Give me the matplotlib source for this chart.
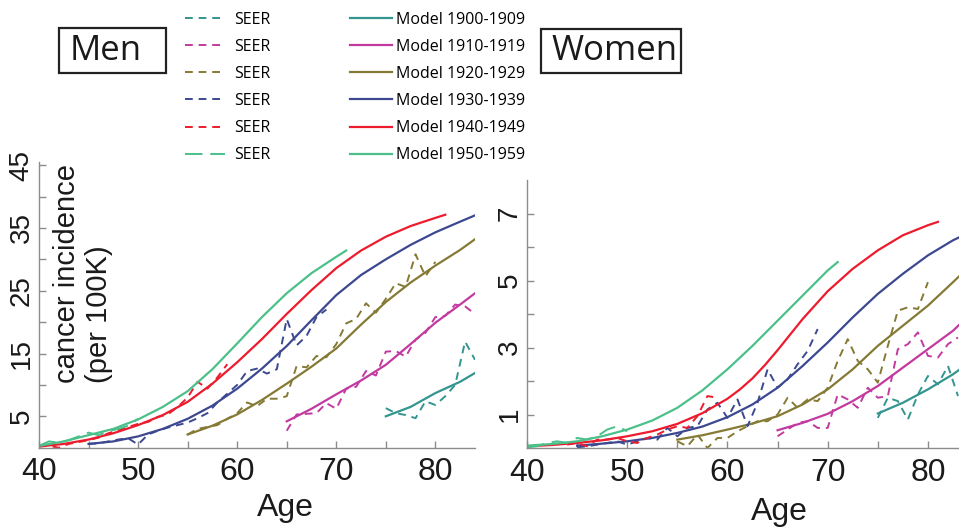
import numpy as np
import matplotlib
matplotlib.use("Agg")
import matplotlib.pyplot as plt
from matplotlib.patches import Rectangle

plt.rcParams['font.family'] = ['Liberation Sans', 'DejaVu Sans']

# cohort labels and colours
cohorts = ["1900-1909", "1910-1919", "1920-1929", "1930-1939", "1940-1949", "1950-1959"]
colors = ["#339590", "#c23aa0", "#857a35", "#3c4890", "#ec1c2e", "#4cc08a"]

# ---- Men: model curves (age, incidence per 100K)
men_model_age = [
    [75, 77.5, 80, 82.5, 84],
    [65, 67.5, 70, 72.5, 75, 77.5, 80, 82.5, 84],
    [55, 57.5, 60, 62.5, 65, 67.5, 70, 72.5, 75, 77.5, 80, 82.5, 84],
    [45, 47.5, 50, 52.5, 55, 57.5, 60, 62.5, 65, 67.5, 70, 72.5, 75, 77.5, 80, 82.5, 84],
    [40, 42.5, 45, 47.5, 50, 52.5, 55, 57.5, 60, 62.5, 65, 67.5, 70, 72.5, 75, 77.5, 80, 81],
    [40, 42.5, 45, 47.5, 50, 52.5, 55, 57.5, 60, 62.5, 65, 67.5, 70, 71],
]
men_model_val = [
    [5.0, 6.5, 8.7, 10.5, 11.9],
    [4.2, 6.2, 8.5, 10.7, 13.2, 16.5, 19.9, 22.8, 24.6],
    [2.1, 3.5, 5.3, 7.6, 10.2, 12.9, 15.8, 19.6, 23.2, 26.3, 29.0, 31.5, 33.2],
    [0.6, 1.0, 1.8, 3.0, 4.6, 6.7, 9.4, 12.6, 16.2, 20.3, 24.3, 27.5, 30.0, 32.3, 34.3, 36.0, 37.0],
    [0.2, 0.6, 1.3, 2.3, 3.6, 5.2, 7.3, 10.2, 13.6, 17.3, 21.3, 25.1, 28.6, 31.4, 33.6, 35.3, 36.6, 37.1],
    [0.3, 1.0, 2.0, 3.0, 4.5, 6.5, 9.0, 12.5, 16.6, 20.8, 24.6, 27.8, 30.4, 31.4],
]

# ---- Men: SEER data, one value per year
men_seer_start = [75, 65, 55, 45, 40, 40]
men_seer_val = [
    [6.3, 5.5, 5.2, 4.7, 7.4, 6.8, 8.2, 10.0, 16.9, 14.0],
    [2.7, 5.3, 5.4, 5.5, 7.1, 6.2, 9.4, 9.7, 12.2, 11.5, 15.3, 15.4, 14.5, 17.2, 18.3, 20.8, 21.0, 22.8, 22.5, 21.3],
    [2.1, 3.0, 3.3, 3.6, 4.6, 5.5, 7.2, 6.6, 7.8, 7.8, 8.2, 13.0, 12.8, 14.6, 14.4, 16.5, 19.8, 20.5, 23.0,
     21.5, 23.7, 26.2, 25.6, 30.8, 27.3, 29.6],
    [0.6, 0.7, 1.0, 1.3, 1.5, 0.5, 2.1, 2.7, 3.2, 3.6, 4.0, 4.7, 5.5, 7.2, 8.6, 10.0, 12.2, 12.6, 11.8, 12.5,
     20.5, 16.3, 17.8, 20.8, 22.0],
    [0.2, 0.3, 0.0, 0.6, 0.9, 1.2, 1.6, 2.3, 2.8, 3.3, 3.8, 4.1, 4.9, 5.3, 6.5, 8.0, 10.5, 9.4, 11.2, 13.3],
    [0.3, 1.0, 0.8, 1.2, 1.8, 2.4, 2.0, 2.6, 3.0, 3.5, 4.6],
]

# ---- Women: model curves
women_model_age = [
    [75, 77.5, 80, 82.5, 83.2],
    [65, 67.5, 70, 72.5, 75, 77.5, 80, 82.5, 83.2],
    [55, 57.5, 60, 62.5, 65, 67.5, 70, 72.5, 75, 77.5, 80, 82.5, 83.2],
    [45, 47.5, 50, 52.5, 55, 57.5, 60, 62.5, 65, 67.5, 70, 72.5, 75, 77.5, 80, 82.5, 83.2],
    [40, 42.5, 45, 47.5, 50, 52.5, 55, 57.5, 60, 61.25, 62.5, 63.75, 65, 67.5, 70, 72.5, 75, 77.5, 80, 81],
    [40, 42.5, 45, 47.5, 50, 52.5, 55, 57.5, 60, 62.5, 65, 67.5, 70, 71],
]
women_model_val = [
    [1.03, 1.35, 1.75, 2.2, 2.35],
    [0.53, 0.75, 1.02, 1.4, 1.85, 2.4, 2.95, 3.5, 3.7],
    [0.25, 0.38, 0.55, 0.73, 0.95, 1.3, 1.75, 2.35, 3.05, 3.65, 4.25, 4.95, 5.15],
    [0.07, 0.13, 0.2, 0.3, 0.45, 0.64, 0.92, 1.3, 1.8, 2.45, 3.15, 3.9, 4.6, 5.2, 5.75, 6.2, 6.3],
    [0.05, 0.09, 0.15, 0.23, 0.35, 0.5, 0.72, 1.04, 1.47, 1.75, 2.08, 2.48, 2.92, 3.85, 4.68, 5.35, 5.9, 6.35,
     6.65, 6.75],
    [0.07, 0.12, 0.2, 0.35, 0.55, 0.82, 1.2, 1.72, 2.35, 3.05, 3.8, 4.55, 5.3, 5.55],
]

# ---- Women: SEER data
women_seer_start = [75, 65, 55, 45, 44, 40]
women_seer_val = [
    [0.9, 1.5, 1.4, 0.85, 1.6, 2.15, 1.9, 2.45, 1.55],
    [0.35, 0.55, 0.75, 0.8, 0.6, 0.6, 1.6, 1.45, 1.2, 1.8, 1.5, 1.55, 2.95, 3.1, 3.45, 2.75, 2.7, 3.1, 3.3],
    [0.2, 0.05, 0.4, 0.0, 0.3, 0.3, 0.5, 0.65, 0.8, 0.8, 1.0, 1.5, 1.2, 1.45, 1.4, 1.8, 2.6, 3.25, 2.6,
     2.35, 1.95, 3.05, 4.1, 4.2, 4.15, 4.95],
    [0.02, 0.05, 0.1, 0.15, 0.2, 0.1, 0.2, 0.3, 0.25, 0.6, 0.35, 0.6, 0.65, 1.15, 1.35, 0.9, 1.45, 0.65, 1.35,
     2.35, 1.8, 2.05, 2.5, 2.9, 3.55],
    [0.1, 0.15, 0.05, 0.25, 0.25, 0.3, 0.2, 0.15, 0.3, 0.4, 0.55, 0.65, 0.6, 0.95, 1.55, 1.5],
    [0.02, 0.05, 0.15, 0.2, 0.15, 0.3, 0.25, 0.35, 0.55, 0.65, 0.5],
]

fig = plt.figure(figsize=(9.59, 5.30), dpi=100)
W, H = 959.0, 530.0

ax_m = fig.add_axes([39 / W, 1 - 447.7 / H, 436 / W, 285.7 / H])
ax_w = fig.add_axes([527 / W, 1 - 448 / H, 433 / W, 268 / H])

seer_handles = []
model_handles = []
for i in range(6):
    dash = (0, (9, 4)) if i == 5 else (0, (4, 3))
    yrs = np.arange(men_seer_start[i], men_seer_start[i] + len(men_seer_val[i]))
    h1, = ax_m.plot(yrs, men_seer_val[i], color=colors[i], lw=1.4, linestyle=dash)
    h2, = ax_m.plot(men_model_age[i], men_model_val[i], color=colors[i], lw=1.6)
    seer_handles.append(h1)
    model_handles.append(h2)

    yrs = np.arange(women_seer_start[i], women_seer_start[i] + len(women_seer_val[i]))
    ax_w.plot(yrs, women_seer_val[i], color=colors[i], lw=1.4, linestyle=dash)
    ax_w.plot(women_model_age[i], women_model_val[i], color=colors[i], lw=1.6)

# axes styling
for ax in (ax_m, ax_w):
    for s in ("top", "right"):
        ax.spines[s].set_visible(False)
    for s in ("left", "bottom"):
        ax.spines[s].set_color("#8c8c8c")
        ax.spines[s].set_linewidth(1.0)
    ax.set_xticks([40, 50, 60, 70, 80])
    ax.set_xticks([45, 55, 65, 75], minor=True)
    ax.tick_params(which="both", direction="in", color="#8c8c8c", length=5, width=1)
    ax.tick_params(axis="x", which="major", labelsize=23, pad=7, labelcolor="#1a1a1a")
    ax.tick_params(axis="y", which="major", labelsize=20, pad=3, labelcolor="#1a1a1a",
                   labelrotation=90)
    ax.set_xlabel("Age", fontsize=23, color="#1a1a1a")
    ax.xaxis.label.set_va("center")

ax_m.set_xlim(40, 84)
ax_m.set_ylim(0, 45.5)
ax_m.set_yticks([5, 15, 25, 35, 45])
ax_m.set_yticks([10, 20, 30, 40], minor=True)
ax_m.xaxis.set_label_coords(0.564, -0.211)

ax_w.set_xlim(40, 83.2)
ax_w.set_ylim(0, 8)
ax_w.set_yticks([1, 3, 5, 7])
ax_w.set_yticks([2, 4, 6], minor=True)
ax_w.xaxis.set_label_coords(0.583, -0.239)

for ax in (ax_m, ax_w):
    for lab in ax.get_yticklabels():
        lab.set_va("center")

# y label inside the men panel
fig.text(83 / W, 1 - 383 / H, "cancer incidence\n(per 100K)", rotation=90, fontsize=21,
         ha="center", va="bottom", multialignment="left", color="#1a1a1a", linespacing=1.2)

# panel titles in boxes
fig.add_artist(Rectangle((59 / W, 1 - 73 / H), 107 / W, 45 / H, transform=fig.transFigure,
                         fill=False, ec="#222222", lw=1.6))
fig.text(106 / W, 1 - 51 / H, "Men", fontsize=25, family="Open Sans", ha="center", va="center",
         color="#1a1a1a")
fig.add_artist(Rectangle((541 / W, 1 - 73 / H), 140 / W, 44 / H, transform=fig.transFigure,
                         fill=False, ec="#222222", lw=1.6))
fig.text(615 / W, 1 - 51 / H, "Women", fontsize=25, family="Open Sans", ha="center", va="center",
         color="#1a1a1a")

# legends
leg_kw = dict(frameon=False, borderpad=0, borderaxespad=0, labelspacing=0.7,
              prop={"family": "Open Sans", "size": 11.5}, loc="upper left")
fig.legend(seer_handles, ["SEER"] * 6, bbox_to_anchor=(185 / W, 1 - 11.5 / H),
           handlelength=2.5, handletextpad=0.6, **leg_kw)
fig.legend(model_handles, ["Model " + c for c in cohorts], bbox_to_anchor=(350 / W, 1 - 11.5 / H),
           handlelength=2.6, handletextpad=0.3, **leg_kw)

fig.savefig("out.png", dpi=100)
